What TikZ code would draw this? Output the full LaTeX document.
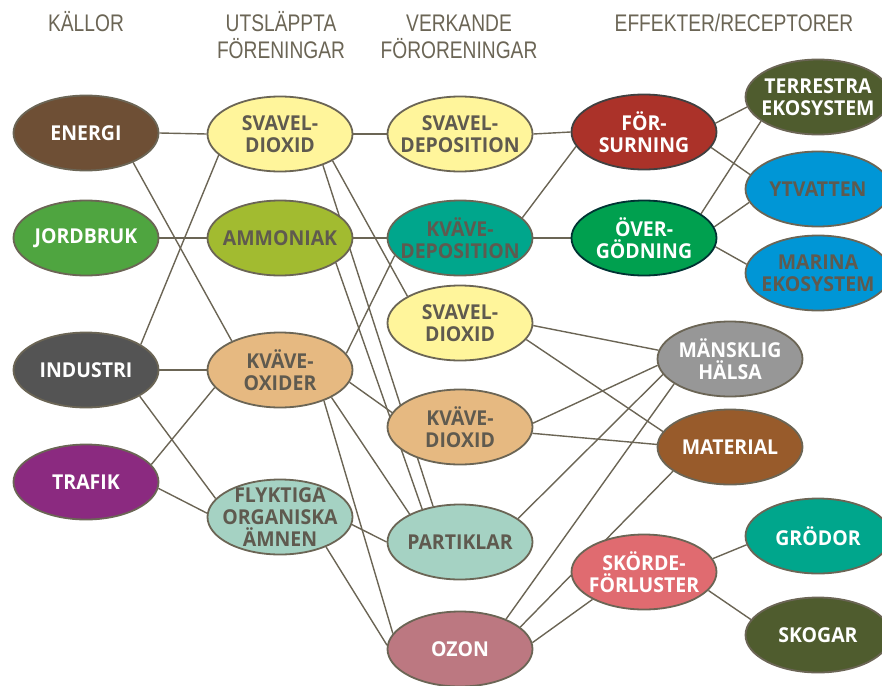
\documentclass[tikz,border=0pt]{standalone}
\usepackage{fontspec}
\setmainfont{Open Sans}
\newfontfamily\nodefont[FakeStretch=0.95]{Open Sans}
\newfontfamily\hdrfont[FakeStretch=0.8]{Liberation Sans}
\usetikzlibrary{shapes.geometric,backgrounds}
\definecolor{edgec}{HTML}{6B6555}
\definecolor{txtd}{HTML}{5F5A4F}
\definecolor{hdrc}{HTML}{6B6555}
\definecolor{cenergi}{HTML}{6E4F35}
\definecolor{cjord}{HTML}{4FA540}
\definecolor{cind}{HTML}{545454}
\definecolor{ctraf}{HTML}{8B2A80}
\definecolor{cyel}{HTML}{FFF59B}
\definecolor{camm}{HTML}{A2BB30}
\definecolor{ctan}{HTML}{E6B981}
\definecolor{clteal}{HTML}{A5D2C3}
\definecolor{cteal}{HTML}{00A68C}
\definecolor{cozon}{HTML}{BC7881}
\definecolor{cfors}{HTML}{AB3229}
\definecolor{cover}{HTML}{00A04F}
\definecolor{colive}{HTML}{4F5C2E}
\definecolor{cblue}{HTML}{0096D6}
\definecolor{cgray}{HTML}{979797}
\definecolor{cmat}{HTML}{985B2B}
\definecolor{cskorde}{HTML}{E06B70}
\begin{document}
\begin{tikzpicture}[x=1pt,y=-1pt,
  edge/.style={draw=edgec, line width=1.4pt},
  ell/.style={ellipse, draw=edgec, line width=1.8pt, minimum width=145pt,
    minimum height=75pt, inner xsep=-25pt, inner ysep=-25pt,
    font=\nodefont\fontsize{20.5}{22}\selectfont\bfseries, align=center, text=txtd},
  lt/.style={text=white},
  hdr/.style={font=\hdrfont\fontsize{24}{26}\selectfont, text=hdrc, inner sep=0pt, anchor=base}]
\useasboundingbox (0,0) rectangle (882,685);

% headers
\node[hdr] (h1) at (86,32) {KÄLLOR};
\node[hdr] (h2a) at (281,32) {UTSLÄPPTA};
\node[hdr] (h2b) at (281,58) {FÖRENINGAR};
\node[hdr] (h3a) at (459,32) {VERKANDE};
\node[hdr] (h3b) at (459,58) {FÖRORENINGAR};
\node[hdr] (h4) at (734,32) {EFFEKTER/RECEPTORER};

% column 1
\node[ell, fill=cenergi, lt] (energi) at (86,133) {ENERGI};
\node[ell, fill=cjord, lt] (jordbruk) at (86,238) {JORDBRUK};
\node[ell, fill=cind, lt] (industri) at (86,370) {INDUSTRI};
\node[ell, fill=ctraf, lt] (trafik) at (86,482) {TRAFIK};
% column 2
\node[ell, fill=cyel] (so2) at (280,134) {SVAVEL-\\DIOXID};
\node[ell, fill=camm] (nh3) at (280,238) {AMMONIAK};
\node[ell, fill=ctan] (nox) at (280,370) {KVÄVE-\\OXIDER};
\node[ell, fill=clteal] (voc) at (280,517) {FLYKTIGA\\ORGANISKA\\ÄMNEN};
% column 3
\node[ell, fill=cyel] (sdep) at (460,134) {SVAVEL-\\DEPOSITION};
\node[ell, fill=cteal] (ndep) at (460,238) {KVÄVE-\\DEPOSITION};
\node[ell, fill=cyel] (so2b) at (460,323) {SVAVEL-\\DIOXID};
\node[ell, fill=ctan] (no2) at (460,427) {KVÄVE-\\DIOXID};
\node[ell, fill=clteal] (part) at (460,542) {PARTIKLAR};
\node[ell, fill=cozon, lt] (ozon) at (460,649) {OZON};
% column 4
\node[ell, fill=cfors, lt, draw=black!75] (fors) at (644,132) {FÖR-\\SURNING};
\node[ell, fill=cover, lt, draw=black!60!teal] (overg) at (644,238) {ÖVER-\\GÖDNING};
\node[ell, fill=cgray, lt] (halsa) at (730,359) {MÄNSKLIG\\HÄLSA};
\node[ell, fill=cmat, lt] (material) at (730,447) {MATERIAL};
\node[ell, fill=cskorde, lt] (skorde) at (644,572) {SKÖRDE-\\FÖRLUSTER};
% column 5
\node[ell, fill=colive, lt] (terr) at (818,97) {TERRESTRA\\EKOSYSTEM};
\node[ell, fill=cblue] (ytv) at (818,189) {YTVATTEN};
\node[ell, fill=cblue] (marina) at (818,273) {MARINA\\EKOSYSTEM};
\node[ell, fill=cteal, lt] (grodor) at (818,536) {GRÖDOR};
\node[ell, fill=colive, lt] (skogar) at (818,635) {SKOGAR};

\begin{scope}[on background layer]
\draw[edge] (energi.east) -- (so2.west);
\draw[edge] (energi.-32) -- (nox.149);
\draw[edge] (jordbruk.east) -- (nh3.west);
\draw[edge] (industri.25) -- (so2.-161);
\draw[edge] (industri.east) -- (nox.west);
\draw[edge] (industri.-26) -- (voc.164);
\draw[edge] (trafik.15) -- (nox.-165);
\draw[edge] (trafik.-5) -- (voc.177);
\draw[edge] (so2.east) -- (sdep.west);
\draw[edge] (so2.-27) -- (so2b.153);
\draw[edge] (so2.-36) -- (part.127);
\draw[edge] (nh3.east) -- (ndep.west);
\draw[edge] (nh3.-24) -- (part.139);
\draw[edge] (nox.14) -- (ndep.-165);
\draw[edge] (nox.-10) -- (no2.168);
\draw[edge] (nox.-28) -- (part.151);
\draw[edge] (nox.-35) -- (ozon.167);
\draw[edge] (voc.-6) -- (part.180);
\draw[edge] (voc.-33) -- (ozon.177);
\draw[edge] (sdep.east) -- (fors.west);
\draw[edge] (ndep.18) -- (fors.-168);
\draw[edge] (ndep.east) -- (overg.west);
\draw[edge] (so2b.-2) -- (halsa.173);
\draw[edge] (so2b.-14) -- (material.167);
\draw[edge] (no2.3) -- (halsa.-175);
\draw[edge] (no2.-5) -- (material.178);
\draw[edge] (part.22) -- (halsa.-167);
\draw[edge] (ozon.33) -- (halsa.-156);
\draw[edge] (ozon.20) -- (material.-157);
\draw[edge] (ozon.5) -- (skorde.-152);
\draw[edge] (fors.7) -- (terr.-172);
\draw[edge] (fors.-13) -- (ytv.168);
\draw[edge] (overg.23) -- (terr.-157);
\draw[edge] (overg.9) -- (ytv.-169);
\draw[edge] (overg.-7) -- (marina.173);
\draw[edge] (skorde.11) -- (grodor.-173);
\draw[edge] (skorde.-16) -- (skogar.167);
\end{scope}
\end{tikzpicture}
\end{document}
